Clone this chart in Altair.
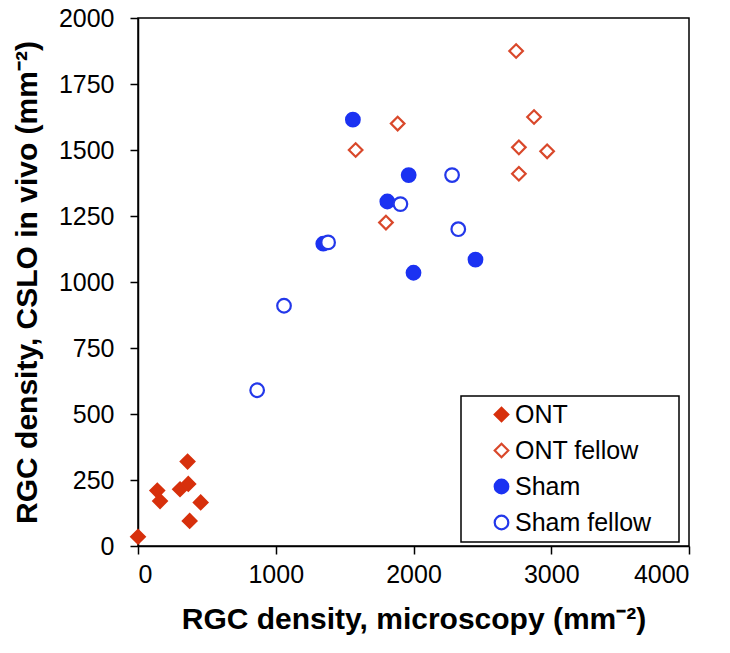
import altair as alt
import pandas as pd

groups = ["ONT", "ONT fellow", "Sham", "Sham fellow"]

ont_x = [0, 360, 140, 160, 305, 365, 455, 375]
ont_y = [35, 320, 210, 170, 215, 235, 165, 95]

ontf_x = [2745, 2875, 2765, 2970, 2765, 1885, 1580, 1800]
ontf_y = [1875, 1625, 1510, 1495, 1410, 1600, 1500, 1225]

sham_x = [1560, 1965, 1810, 1345, 2450, 2000]
sham_y = [1615, 1405, 1305, 1145, 1085, 1035]

shamf_x = [2280, 1905, 2325, 1380, 1060, 865]
shamf_y = [1405, 1295, 1200, 1150, 910, 590]

x_ticks = [0, 1000, 2000, 3000, 4000]
y_ticks = [0, 250, 500, 750, 1000, 1250, 1500, 1750, 2000]

rows = []
for g, xs, ys in zip(groups, [ont_x, ontf_x, sham_x, shamf_x], [ont_y, ontf_y, sham_y, shamf_y]):
    for a, b in zip(xs, ys):
        rows.append({"group": g, "x": a, "y": b})
df = pd.DataFrame(rows)

shape_range = ["diamond", "diamond", "circle", "circle"]
stroke_range = ["#D7300C", "#D9482B", "#1B32F2", "#2338EA"]
fill_range = ["#D7300C", "#FFFFFF", "#1B32F2", "#FFFFFF"]

FONT = "Liberation Sans"
LEG = alt.Legend(labelExpr="datum.label + '" + "\u00a0" * 3 + "\u200b'", labelLimit=400)

chart = alt.Chart(df).mark_point(
    size=185, strokeWidth=2.2, opacity=1, fillOpacity=1
).encode(
    x=alt.X("x:Q",
            scale=alt.Scale(domain=[0, 4000], nice=False, zero=False),
            axis=alt.Axis(values=x_ticks, format="d", title="RGC density, microscopy (mm⁻²)",
                          labelPadding=8, titlePadding=17)),
    y=alt.Y("y:Q",
            scale=alt.Scale(domain=[0, 2000], nice=False, zero=False),
            axis=alt.Axis(values=y_ticks, format="d", title="RGC density, CSLO in vivo (mm⁻²)",
                          labelPadding=16, titlePadding=16)),
    shape=alt.Shape("group:N", scale=alt.Scale(domain=groups, range=shape_range), title=None, legend=LEG),
    stroke=alt.Stroke("group:N", scale=alt.Scale(domain=groups, range=stroke_range), title=None, legend=LEG),
    fill=alt.Fill("group:N", scale=alt.Scale(domain=groups, range=fill_range), title=None, legend=LEG),
).properties(
    width=551,
    height=528,
    autosize=alt.AutoSizeParams(type="none"),
    padding={"left": 130, "top": 10, "right": 30, "bottom": 100},
).configure_view(
    stroke="black", strokeWidth=1.5
).configure_axis(
    grid=False,
    domainColor="black", domainWidth=1.5,
    tickColor="black", tickWidth=1.5, tickSize=8,
    labelFont=FONT, labelFontSize=25, labelColor="black",
    titleFont=FONT, titleFontSize=30, titleFontWeight="bold", titleColor="black",
).configure_legend(
    orient="none", legendX=323, legendY=378,
    fillColor="white", strokeColor="black", strokeWidth=1.5,
    padding=6, rowPadding=10,
    symbolSize=185, symbolStrokeWidth=2.2, symbolOffset=22, labelOffset=1,
    labelFont=FONT, labelFontSize=25, labelColor="black",
)

chart.save("out.html", embed_options={"renderer": "svg", "actions": False})
